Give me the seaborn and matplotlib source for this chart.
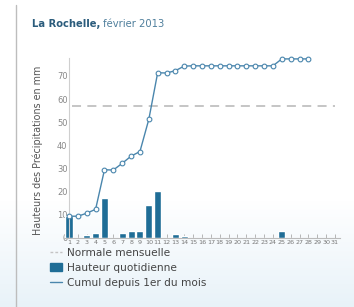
import numpy as np
import pandas as pd
import matplotlib
matplotlib.use('Agg')
import matplotlib.pyplot as plt
from matplotlib.lines import Line2D
from matplotlib.patches import Patch
import seaborn as sns

# daily rain (mm) in February 2013 and running total
days = list(range(1, 29))
daily = [9.2, 0, 1.0, 1.9, 17.2, 0, 2.1, 2.9, 2.9, 14.2, 20.1, 0, 1.8, 0.9,
         0, 0, 0, 0, 0, 0, 0, 0, 0, 0, 3.1, 0, 0, 0]
cumul = [9.3, 9.3, 10.6, 12.3, 29.4, 29.3, 32.2, 35.3, 37.3, 51.2, 71.4, 71.3,
         72.3, 74.3, 74.4, 74.4, 74.4, 74.4, 74.4, 74.4, 74.4, 74.4, 74.4, 74.4,
         77.4, 77.4, 77.4, 77.4]
normale = 57.1
tick_days = list(range(1, 32))
yticks = [0, 10, 20, 30, 40, 50, 60, 70]

BAR = '#1f6d96'
LINE = '#4a86ad'

df = pd.DataFrame({'jour': days, 'hauteur': daily, 'cumul': cumul})

sns.set_style('white')
plt.rcParams['font.family'] = ['DejaVu Sans']

W, H = 354, 307
fig = plt.figure(figsize=(W / 100, H / 100), dpi=100)
fig.patch.set_facecolor('white')

# background: white fading to pale blue at the bottom
bg = fig.add_axes([0, 0, 1, 1], zorder=-5)
grad = np.ones((H, 1, 3))
t = np.clip((np.arange(H) - 200) / (H - 200), 0, 1)
top_c = np.array([1.0, 1.0, 1.0])
bot_c = np.array([0.91, 0.95, 0.975])
grad[:, 0, :] = top_c + (bot_c - top_c) * t[:, None]
bg.imshow(grad, aspect='auto', extent=[0, 1, 0, 1])
bg.axis('off')

fig.add_artist(Line2D([16 / W, 16 / W], [0, 1 - 5 / H], color='#bdbdbd', lw=1))

px_day = 266 / 30
px_mm = 2.31
left, right = 64, 340
y0 = 237.7
ymax = 78
ax = fig.add_axes([left / W, (H - y0) / H, (right - left) / W, ymax * px_mm / H])
ax.set_facecolor('none')

sns.barplot(data=df, x='jour', y='hauteur', native_scale=True, color=BAR,
            width=0.8, saturation=1, ax=ax, zorder=2)
ax.plot([1.3, 31], [normale, normale], color='#c0c0c0', lw=1.3, ls=(0, (5, 3.5)), zorder=1)
sns.lineplot(data=df, x='jour', y='cumul', color=LINE, lw=1, marker='o',
             markersize=3.4, markerfacecolor='white', markeredgecolor=LINE,
             markeredgewidth=0.8, ax=ax, zorder=3, clip_on=False)

ax.set_xlim(1 - 5 / px_day, 31 + 5 / px_day)
ax.set_ylim(0, ymax)
ax.set_xticks(tick_days)
ax.set_xticklabels([str(d) for d in tick_days])
ax.set_yticks(yticks)
ax.set_xlabel('')
ax.set_ylabel('')
ax.tick_params(axis='x', direction='in', length=3, width=0.6, color='#aaaaaa',
               labelsize=4.6, labelcolor='#777777', pad=2, bottom=True)
ax.tick_params(axis='y', length=0, labelsize=6, labelcolor='#888888', pad=1)
for s in ['top', 'right']:
    ax.spines[s].set_visible(False)
ax.spines['left'].set_position(('data', 1))
ax.spines['left'].set_color('#cfcfcf')
ax.spines['left'].set_linewidth(0.8)
ax.spines['bottom'].set_color('#bbbbbb')
ax.spines['bottom'].set_linewidth(0.8)

fig.text(38 / W, 1 - 150 / H, 'Hauteurs des Précipitations en mm', rotation=90,
         ha='center', va='center', fontsize=6.9, color='#555555')

# title in two parts
t1 = fig.text(32 / W, 1 - 24 / H, 'La Rochelle,', fontsize=7.2, fontweight='bold',
              color='#2b5c7c', va='center')
fig.canvas.draw()
bb = t1.get_window_extent()
fig.text((bb.x1 + 3) / W, 1 - 24 / H, 'février 2013', fontsize=7.2,
         color='#4f7f9c', va='center')

handles = [Line2D([], [], color='#c4c4c4', lw=1, ls=(0, (2, 1.5))),
           Patch(facecolor=BAR, edgecolor=BAR),
           Line2D([], [], color=LINE, lw=1)]
labels = ['Normale mensuelle', 'Hauteur quotidienne', 'Cumul depuis 1er du mois']
fig.legend(handles, labels, loc='upper left', bbox_to_anchor=(50 / W, 1 - 248 / H),
           frameon=False, fontsize=7.6, handlelength=1.1, handletextpad=0.5,
           labelspacing=0.45, borderaxespad=0, borderpad=0, labelcolor='#444444')

fig.savefig('out.png', dpi=100)
